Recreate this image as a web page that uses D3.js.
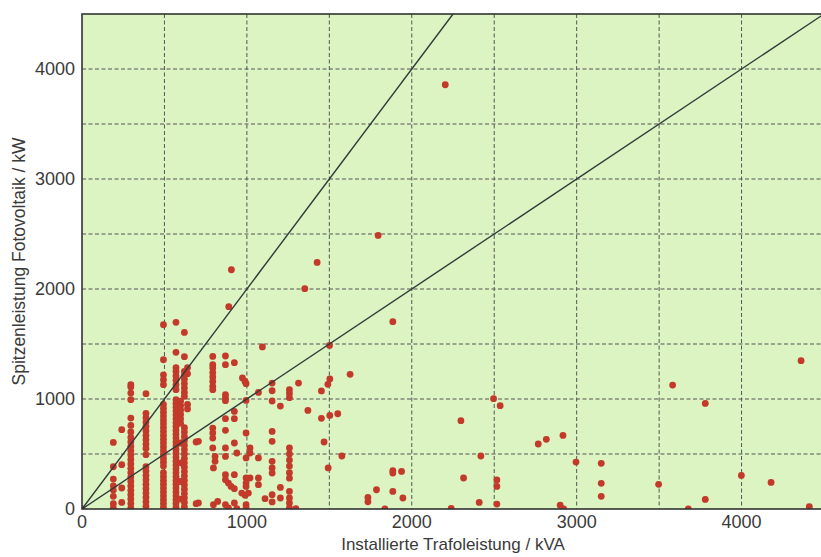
<!DOCTYPE html>
<html>
<head>
<meta charset="utf-8">
<script src="https://cdn.jsdelivr.net/npm/d3@7"></script>
<style>
  body { margin: 0; background: #fff; }
  text { font-family: "Liberation Sans", Arial, sans-serif; fill: #3a3a3a; }
</style>
</head>
<body>
<svg id="chart" width="821" height="557"></svg>
<script>
let xTicks = [0, 1000, 2000, 3000, 4000]
let yTicks = [0, 1000, 2000, 3000, 4000]
let gridSteps = [500, 1000, 1500, 2000, 2500, 3000, 3500, 4000]
let slopes = [2, 1]
let xTitle = "Installierte Trafoleistung / kVA"
let yTitle = "Spitzenleistung Fotovoltaik / kW"

// dense columns at the usual trafo sizes: [kVA, [kW ...]]
let columns = [
  [190, [605, 384, 272, 211, 172, 115, 48, 10]],
  [241, [721, 403, 191, 60]],
  [296, [1130, 1109, 1054, 994, 827, 760, 700, 650, 610, 570, 530, 490, 450, 410, 370, 330, 290, 250, 210, 170, 130, 90, 50, 10]],
  [388, [1048, 870, 830, 790, 750, 710, 670, 630, 590, 550, 494, 385, 345, 305, 265, 225, 185, 145, 105, 65, 25]],
  [494, [1675, 1357, 1220, 1175, 1130, 950, 915, 880, 845, 810, 775, 740, 705, 670, 635, 600, 565, 530, 495, 460, 425, 390, 330, 295, 260, 225, 190, 155, 120, 85, 50, 15]],
  [570, [1697, 1424, 1285, 1250, 1210, 1170, 1130, 1085, 994, 960, 925, 890, 855, 820, 785, 750, 715, 680, 645, 610, 575, 540, 505, 470, 435, 400, 365, 330, 295, 260, 225, 190, 155, 120, 85, 50, 15]],
  [598, [980, 940, 900, 860, 820, 780, 600, 420, 250, 90]],
  [621, [1605, 1385, 1251, 1215, 1180, 1140, 1100, 1060, 1024, 739, 700, 660, 620, 580, 540, 500, 460, 420, 380, 340, 300, 260, 220, 180, 140, 100, 60, 20]],
  [640, [1285, 1230, 950, 910]],
  [793, [1387, 1312, 1282, 1240, 1200, 1160, 1115, 1085, 736, 691, 645, 555]],
  [870, [1391, 1312, 1039, 1009, 985, 821, 715, 555, 478, 312, 266, 39]],
  [924, [1330, 887, 821, 600, 312, 185, 55]],
  [995, [1139, 987, 691, 464, 282, 236, 205, 39, 9]],
  [1153, [1145, 1075, 982, 705, 615, 433, 373, 327, 130, 64]],
  [1258, [1085, 1050, 1012, 555, 500, 445, 390, 330, 280, 160, 100, 55, 9]]
]

// single installations: [kVA, kW]
let singles = [
  [0, 0], [692, 609], [692, 48], [706, 615], [706, 55],
  [807, 478], [807, 433], [797, 373], [797, 39], [823, 69],
  [888, 236], [888, 9], [904, 205], [939, 509], [939, 3],
  [973, 1191], [989, 1160], [969, 145], [989, 124], [1009, 145],
  [1019, 555], [1019, 509], [1019, 282],
  [1070, 1060], [1070, 464], [1070, 282], [1070, 221],
  [1094, 1473], [1110, 94], [1203, 936], [1203, 196], [1203, 100],
  [1297, 3], [1313, 1145], [1370, 896],
  [906, 2175], [890, 1839], [1351, 2003], [1426, 2242], [1796, 2487], [2203, 3857], [1501, 1487],
  [1885, 1703], [1626, 1224], [1503, 1182], [1491, 1133], [1452, 1073], [1452, 824],
  [1503, 851], [1551, 866], [1468, 609], [1576, 482], [1493, 373],
  [2298, 803], [2496, 1003], [2536, 939], [2419, 482], [2314, 282],
  [1885, 348], [1885, 327], [1938, 342], [1786, 175], [1885, 160], [1946, 100],
  [1734, 105], [1734, 66], [1837, 0], [2239, 5], [2409, 60],
  [2516, 264], [2516, 205], [2516, 45], [2767, 591], [2816, 633], [2917, 669],
  [2996, 427], [2900, 35], [2921, 0],
  [4361, 1348], [3582, 1127], [3780, 960], [3149, 415], [3149, 233], [3149, 115],
  [3497, 224], [3999, 305], [4179, 242], [3780, 87], [3677, 0], [4411, 21]
]

let points = singles.concat(...columns.map(([kva, kws]) => kws.map((kw) => [kva, kw])))

let svg = d3.select("#chart")
let pLeft = 82, pTop = 14, pRight = 824, pBottom = 509

let x = d3.scaleLinear().domain([0, 4500]).range([pLeft, pRight])
let y = d3.scaleLinear().domain([0, 4500]).range([pBottom, pTop])

svg.append("defs").append("clipPath").attr("id", "plot")
  .append("rect")
  .attr("x", pLeft).attr("y", pTop)
  .attr("width", pRight - pLeft).attr("height", pBottom - pTop)

svg.append("rect")
  .attr("x", pLeft).attr("y", pTop)
  .attr("width", pRight - pLeft).attr("height", pBottom - pTop)
  .attr("fill", "#dcf3c2")

let grid = svg.append("g")
  .attr("stroke", "#555")
  .attr("stroke-width", 1)
  .attr("stroke-dasharray", "4,2.5")

grid.selectAll(".vx")
  .data(gridSteps)
  .enter().append("line")
  .attr("x1", (d) => x(d)).attr("x2", (d) => x(d))
  .attr("y1", pTop).attr("y2", pBottom)

grid.selectAll(".hy")
  .data(gridSteps)
  .enter().append("line")
  .attr("y1", (d) => y(d)).attr("y2", (d) => y(d))
  .attr("x1", pLeft).attr("x2", pRight)

let plot = svg.append("g").attr("clip-path", "url(#plot)")

plot.selectAll("circle")
  .data(points)
  .enter().append("circle")
  .attr("cx", (d) => x(d[0]))
  .attr("cy", (d) => y(d[1]))
  .attr("r", 3.4)
  .attr("fill", "#c3392a")

plot.selectAll(".ref")
  .data(slopes)
  .enter().append("line")
  .attr("x1", x(0)).attr("y1", y(0))
  .attr("x2", (d) => x(4500 / d))
  .attr("y2", (d) => y(4500))
  .attr("stroke", "#2e3a3a")
  .attr("stroke-width", 1.4)

// frame: top, left and bottom visible
svg.append("rect")
  .attr("x", pLeft).attr("y", pTop)
  .attr("width", pRight - pLeft).attr("height", pBottom - pTop)
  .attr("fill", "none")
  .attr("stroke", "#333")
  .attr("stroke-width", 1.6)

svg.append("g")
  .selectAll("text")
  .data(xTicks)
  .enter().append("text")
  .attr("x", (d) => x(d))
  .attr("y", 528)
  .attr("text-anchor", "middle")
  .attr("font-size", "18px")
  .text((d) => d)

svg.append("g")
  .selectAll("text")
  .data(yTicks)
  .enter().append("text")
  .attr("x", 75)
  .attr("y", (d) => y(d))
  .attr("dy", "0.36em")
  .attr("text-anchor", "end")
  .attr("font-size", "18px")
  .text((d) => d)

svg.append("text")
  .attr("x", (pLeft + pRight) / 2)
  .attr("y", 550)
  .attr("text-anchor", "middle")
  .attr("font-size", "17px")
  .text(xTitle)

svg.append("text")
  .attr("transform", "translate(25," + (pTop + pBottom) / 2 + ") rotate(-90)")
  .attr("text-anchor", "middle")
  .attr("font-size", "17.5px")
  .text(yTitle)
</script>
</body>
</html>
